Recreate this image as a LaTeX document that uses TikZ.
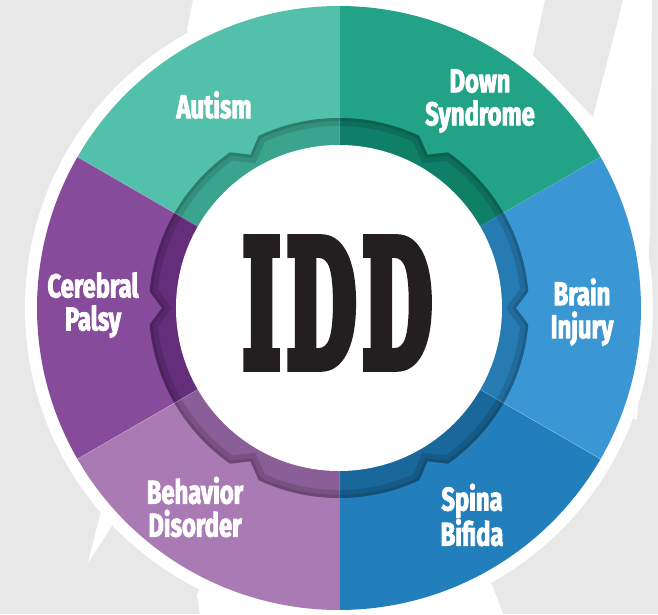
\documentclass[tikz,border=0pt]{standalone}
\usepackage{fontspec}
\usepackage{graphicx}
\newfontfamily\labelfont{Fira Sans}[FakeStretch=0.72, BoldFeatures={FakeBold=2.5}]
\newfontfamily\iddfont{DejaVu Serif}[BoldFeatures={FakeBold=8}]
\definecolor{bggray}{HTML}{E8E8E8}
\definecolor{iddblack}{HTML}{231F20}
\definecolor{autism}{HTML}{52C0AA}
\definecolor{autismring}{HTML}{3BA48E}
\definecolor{down}{HTML}{22A286}
\definecolor{downring}{HTML}{0F7F67}
\definecolor{brain}{HTML}{3A97D3}
\definecolor{brainring}{HTML}{267BB2}
\definecolor{spina}{HTML}{237FBB}
\definecolor{spinaring}{HTML}{1A689B}
\definecolor{behavior}{HTML}{AA7AB4}
\definecolor{behaviorring}{HTML}{8A5E97}
\definecolor{cerebral}{HTML}{874B9C}
\definecolor{cerebralring}{HTML}{652E7B}

\begin{document}
\begin{tikzpicture}
  [x=1pt,y=1pt,
   disease/.style={text=white,align=center,inner sep=0pt,
     font=\labelfont\bfseries\fontsize{33}{33}\selectfont},
   shadowline/.style={black,opacity=0.12}]
  \useasboundingbox (-339,-306) rectangle (319,308);
  % background swooshes
  \fill[bggray] (-339,-306) rectangle (319,308);
  \fill[white] (-146,308) -- (-152,278) -- (0,0) -- (298,-112) -- (311,75) -- (313,308) -- cycle;
  \fill[bggray] (206,308) -- (284,308) -- (254,191) -- (194,253) -- cycle;
  \fill[white] (-236,-195) -- (-251,-255) -- (-222,-210) -- cycle;
  \fill[white] (-139,-306) -- (-142,-287) -- (0,0) -- (154,-279) -- (164,-306) -- cycle;
  \fill[white] (0,0) circle (314);
  % wheel
  \foreach \a/\seg/\ring in {30/down/downring, 90/autism/autismring,
      150/cerebral/cerebralring, 210/behavior/behaviorring,
      270/spina/spinaring, 330/brain/brainring}
  {
    \pgfmathsetmacro\m{\a+30}
    \fill[\seg] (0,0) -- (\a:302) arc[start angle=\a, end angle=\a+60, radius=302] -- cycle;
    \begin{scope}
      \clip (0,0) -- (\a:190) arc[start angle=\a, end angle=\m-5, radius=190]
        -- (\m:177) -- (\m+5:190) arc[start angle=\m+5, end angle=\a+60, radius=190] -- cycle;
      \fill[\ring] (0,0) circle (200);
      \draw[shadowline, line width=16] (\a:190) arc[start angle=\a, end angle=\m-5, radius=190]
        -- (\m:177) -- (\m+5:190) arc[start angle=\m+5, end angle=\a+60, radius=190];
      \draw[shadowline, line width=6] (\a:190) arc[start angle=\a, end angle=\m-5, radius=190]
        -- (\m:177) -- (\m+5:190) arc[start angle=\m+5, end angle=\a+60, radius=190];
    \end{scope}
    \draw[white, opacity=0.25, line width=0.6] (\a:163) -- (\a:302);
  }
  \fill[white] (0,0) circle (163);
  % texts
  \node at (-1.5,5) (idd) [inner sep=0pt, text=iddblack]
    {\resizebox{189pt}{124pt}{\iddfont\bfseries I\kern0.8pt D\kern0.8pt D}};
  \node at (-125,203) (autism) [disease] {Autism};
  \node at (141,207) (down) [disease] {Down\\Syndrome};
  \node at (243,-4) (brain) [disease] {Brain\\Injury};
  \node at (133,-207) (spina) [disease] {Spina\\Bifida};
  \node at (-144,-199) (behavior) [disease] {Behavior\\Disorder};
  \node at (-246,3) (cerebral) [disease] {Cerebral\\Palsy};
\end{tikzpicture}
\end{document}
